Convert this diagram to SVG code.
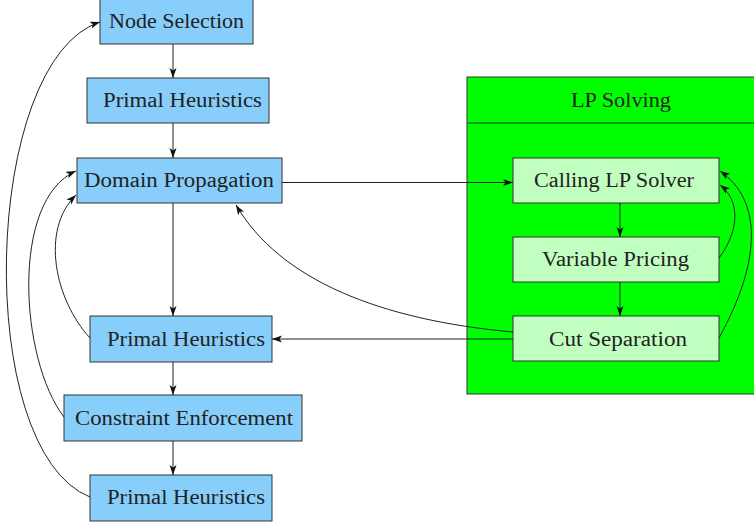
<svg xmlns="http://www.w3.org/2000/svg" width="754" height="525" viewBox="0 0 754 525">
<defs>
<style>
.b{fill:#87cefa;stroke:#333;stroke-width:1}
.g{fill:#c1ffc1;stroke:#333;stroke-width:1}
.t{font-family:"Liberation Serif","Times New Roman",serif;font-size:20px;fill:#222;text-anchor:middle}
.c{fill:none;stroke:#222;stroke-width:1;marker-end:url(#ah)}
</style>
<marker id="ah" markerUnits="userSpaceOnUse" markerWidth="12" markerHeight="10" refX="10" refY="3.5" orient="auto">
<path d="M0,0 L10,3.5 L0,7 L2.5,3.5 z" fill="#111"/>
</marker>
</defs>
<rect x="0" y="0" width="754" height="525" fill="#fff"/>
<g id="lp-solving">
<rect x="467" y="77" width="300" height="317" fill="#00ff00" stroke="#333" stroke-width="1"/>
<line x1="467" y1="123" x2="754" y2="123" stroke="#333" stroke-width="1"/>
<text class="t" x="621" y="107" textLength="100" lengthAdjust="spacingAndGlyphs">LP Solving</text>
</g>
<g id="node-selection">
<rect class="b" x="100" y="-1" width="153" height="45"/>
<text class="t" x="176.5" y="28" textLength="135" lengthAdjust="spacingAndGlyphs">Node Selection</text>
</g>
<g id="primal-heuristics-1">
<rect class="b" x="87" y="78" width="182" height="45"/>
<text class="t" x="182.5" y="107" textLength="159" lengthAdjust="spacingAndGlyphs">Primal Heuristics</text>
</g>
<g id="domain-propagation">
<rect class="b" x="77" y="158" width="205" height="45"/>
<text class="t" x="179" y="187" textLength="190" lengthAdjust="spacingAndGlyphs">Domain Propagation</text>
</g>
<g id="primal-heuristics-2">
<rect class="b" x="90" y="316" width="182" height="46"/>
<text class="t" x="186" y="346" textLength="158" lengthAdjust="spacingAndGlyphs">Primal Heuristics</text>
</g>
<g id="constraint-enforcement">
<rect class="b" x="64" y="395" width="238" height="46"/>
<text class="t" x="184" y="425" textLength="218" lengthAdjust="spacingAndGlyphs">Constraint Enforcement</text>
</g>
<g id="primal-heuristics-3">
<rect class="b" x="90" y="475" width="182" height="46"/>
<text class="t" x="186" y="504" textLength="158" lengthAdjust="spacingAndGlyphs">Primal Heuristics</text>
</g>
<g id="calling-lp-solver">
<rect class="g" x="513" y="158" width="206" height="45"/>
<text class="t" x="614" y="187" textLength="160" lengthAdjust="spacingAndGlyphs">Calling LP Solver</text>
</g>
<g id="variable-pricing">
<rect class="g" x="513" y="237" width="206" height="45"/>
<text class="t" x="615.5" y="266" textLength="147" lengthAdjust="spacingAndGlyphs">Variable Pricing</text>
</g>
<g id="cut-separation">
<rect class="g" x="513" y="316" width="206" height="45"/>
<text class="t" x="618" y="346" textLength="138" lengthAdjust="spacingAndGlyphs">Cut Separation</text>
</g>
<g id="connectors">
<path class="c" d="M173,44 L173,78"/>
<path class="c" d="M173,123 L173,158"/>
<path class="c" d="M173,203 L173,316"/>
<path class="c" d="M173,362 L173,395"/>
<path class="c" d="M173,441 L173,475"/>
<path class="c" d="M282,182.5 L513,182.5"/>
<path class="c" d="M620,203 L620,237"/>
<path class="c" d="M620,282 L620,316"/>
<path class="c" d="M513,339 L272,339"/>
<path class="c" d="M513,332 C380,320 280,280 236,205"/>
<path class="c" d="M719,258 C740,230 740,200 720,185"/>
<path class="c" d="M719,338 C762,260 762,200 720,171"/>
<path class="c" d="M90,338 C55,300 40,230 76,195"/>
<path class="c" d="M64,417 C20,360 10,200 76,171"/>
<path class="c" d="M90,497 C-28,450 -18,60 100,22"/>
</g>
</svg>
